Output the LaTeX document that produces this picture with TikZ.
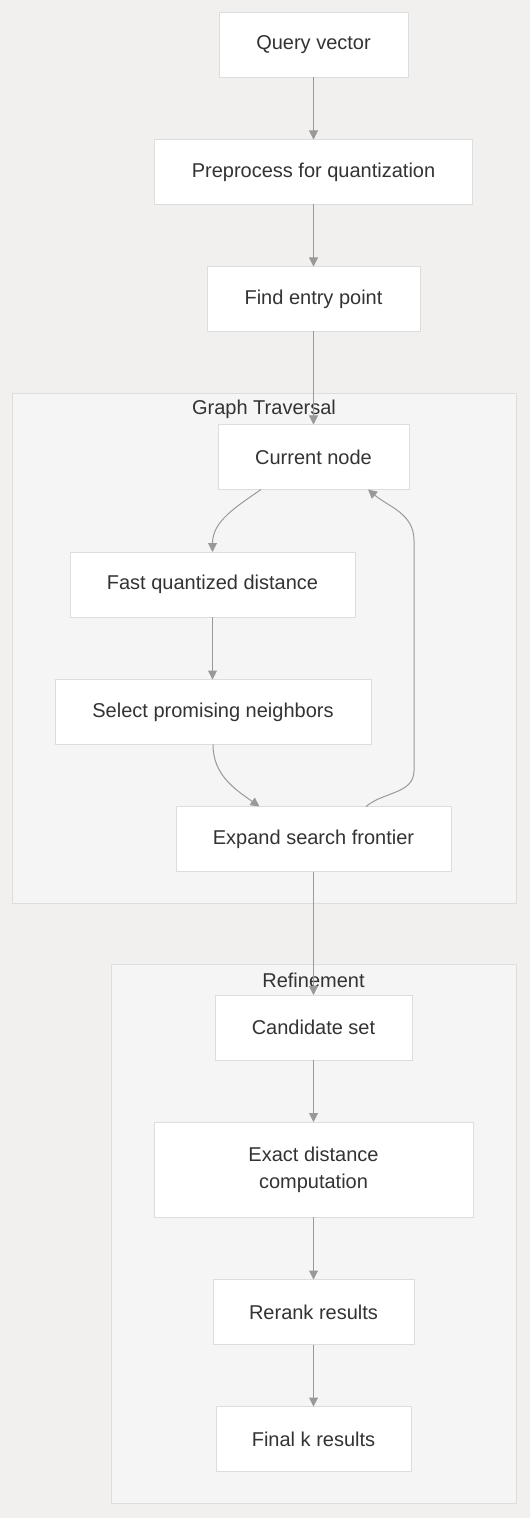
\documentclass[tikz,border=0pt]{standalone}
\usepackage{fontspec}
\setmainfont{Liberation Sans}
\usetikzlibrary{positioning,calc}
\usetikzlibrary{arrows.meta}
\definecolor{bggray}{HTML}{F1F0EF}
\definecolor{clfill}{HTML}{F5F5F5}
\definecolor{clline}{HTML}{DDDDDD}
\definecolor{edgegray}{HTML}{999999}
\definecolor{txtgray}{HTML}{333333}

\begin{document}
\begin{tikzpicture}[x=0.5pt,y=0.5pt,
         font=\fontsize{10}{12.5}\selectfont,
         box/.style = {draw=clline, fill=white, text=txtgray, inner sep=0pt,
         outer sep=0pt, minimum height=32.5pt, align=center},
         link/.style = {draw=edgegray, line width=0.5pt,
         -{Triangle[length=4.5pt,width=4.5pt]}},
         cluster/.style = {draw=clline, fill=clfill, line width=0.5pt},
         clustertitle/.style = {text=txtgray, inner sep=0pt}
]
      \fill[bggray] (0,0) rectangle (530,-1518);
      \useasboundingbox (0,0) rectangle (530,-1518);

      % subgraph frames
      \draw[cluster] (12,-394) rectangle (516,-903);
      \node[clustertitle] (gtitle) at (264,-409) {Graph Traversal};
      \draw[cluster] (111,-964) rectangle (516,-1503);
      \node[clustertitle] (rtitle) at (313.5,-980) {Refinement};

      % main column
      \node[box, minimum width=94.5pt] (query) at (313.5,-44.5) {Query vector};
      \node[box, minimum width=159pt, below=31.25pt of query] (prep) {Preprocess for quantization};
      \node[box, minimum width=106.5pt, below=31pt of prep] (entry) {Find entry point};
      \node[box, minimum width=95.5pt, below=46.5pt of entry] (cur) {Current node};

      \node[box, minimum width=142.5pt] (fast) at (212.5,-584.5) {Fast quantized distance};
      \node[box, minimum width=158pt] (sel) at (213,-712) {Select promising neighbors};
      \node[box, minimum width=137.5pt] (expand) at (313.5,-839) {Expand search frontier};

      \node[box, minimum width=98.5pt, below=61.75pt of expand] (cand) {Candidate set};
      \node[box, minimum width=159.5pt, minimum height=47.5pt, below=31pt of cand] (exact)
         {Exact distance\\[1pt]computation};
      \node[box, minimum width=100.5pt, below=31.25pt of exact] (rerank) {Rerank results};
      \node[box, minimum width=97.5pt, below=31pt of rerank] (final) {Final k results};

      \draw[link] (query) -- (prep);
      \draw[link] (prep) -- (entry);
      \draw[link] (entry) -- (cur);
      \draw[link] ($(cur.south)+(-52.5,0)$) to[out=-145,in=90] (fast.north);
      \draw[link] (fast) -- (fast.south |- sel.north);
      \draw[link] (sel.south) to[out=-90,in=145] ($(expand.north)+(-54,0)$);
      \draw[link] ($(expand.north)+(52.5,0)$) to[out=40,in=-90] ++(48,36)
         -- ++(0,230) to[out=90,in=-40] ($(cur.south)+(54.5,0)$);
      \draw[link] (expand) -- (cand);
      \draw[link] (cand) -- (exact);
      \draw[link] (exact) -- (rerank);
      \draw[link] (rerank) -- (final);
\end{tikzpicture}
\end{document}
